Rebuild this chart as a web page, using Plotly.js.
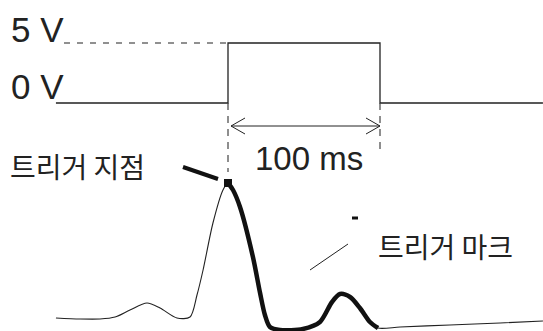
<!DOCTYPE html>
<html>
<head>
<meta charset="utf-8">
<script src="https://cdn.plot.ly/plotly-3.0.1.min.js"></script>
<style>html,body{margin:0;padding:0;background:#fff;}#chart{width:543px;height:331px;}</style>
</head>
<body>
<div id="chart"></div>
<script>
// Trigger pulse (time in ms, level in V)
const pulseTime  = [-113.2, 0, 0, 100, 100, 207.2];
const pulseLevel = [0, 0, 5, 5, 0, 0];

// ECG waveform (time in ms, amplitude in mV)
const ecgTime  = [-113.2, -97.4, -84.2, -74.3, -64.5, -53.3, -44.7, -33.6, -25.0, -20.4, -16.4, -9.9, -3.3, 0,
                  3.3, 7.9, 16.4, 21.1, 24.3, 27.6, 34.2, 49.3, 60.5, 68.4, 73.7, 80.3, 86.8, 93.4, 98.7,
                  113.2, 146.0, 179.0, 207.2];
const ecgValue = [0.01, 0.00, 0.00, 0.02, 0.09, 0.16, 0.11, 0.01, 0.02, 0.24, 0.49, 0.96, 1.29, 1.36,
                  1.29, 1.12, 0.62, 0.26, 0.04, -0.08, -0.11, -0.10, -0.03, 0.17, 0.25, 0.22, 0.11, -0.03, -0.09,
                  -0.08, -0.06, -0.04, -0.02];

// Marked (thick) segment after the trigger point
const markStart = 0, markEnd = 98.7;
const markTime  = ecgTime.filter(t => t >= markStart && t <= markEnd);
const markValue = ecgValue.filter((v, i) => ecgTime[i] >= markStart && ecgTime[i] <= markEnd);

const pulseLabels = ['5 V', '0 V'];
const widthLabel = '100 ms';
const triggerPointLabel = '트리거 지점';
const triggerMarkLabel = '트리거 마크';

const W = 543, H = 331;
const px = x => x / W;
const py = y => 1 - y / H;
const ink = '#222222';

const traces = [
  {x: pulseTime, y: pulseLevel, yaxis: 'y', mode: 'lines', line: {color: ink, width: 1.3}, hoverinfo: 'skip'},
  {x: ecgTime, y: ecgValue, yaxis: 'y2', mode: 'lines', line: {color: ink, width: 1.1, shape: 'spline', smoothing: 0.8}, hoverinfo: 'skip'},
  {x: markTime, y: markValue, yaxis: 'y2', mode: 'lines', line: {color: '#111', width: 4.5, shape: 'spline', smoothing: 0.8}, hoverinfo: 'skip'},
  {x: [markTime[0]], y: [markValue[0]], yaxis: 'y2', mode: 'markers', marker: {color: '#111', size: 8, symbol: 'square'}, hoverinfo: 'skip'}
];

const shapes = [
  // 5 V reference dashed line
  {type: 'line', xref: 'paper', yref: 'y', x0: px(64), x1: px(228), y0: 5, y1: 5, line: {color: ink, width: 1.2, dash: '6px,7px'}},
  // vertical dashed markers
  {type: 'line', xref: 'x', yref: 'paper', x0: 0, x1: 0, y0: py(103), y1: py(172), line: {color: '#444', width: 1.2, dash: '7px,6px'}},
  {type: 'line', xref: 'x', yref: 'paper', x0: 100, x1: 100, y0: py(103), y1: py(155), line: {color: '#444', width: 1.2, dash: '7px,6px'}},
  // 100 ms double arrow
  {type: 'line', xref: 'paper', yref: 'paper', x0: px(231), x1: px(380), y0: py(126), y1: py(126), line: {color: ink, width: 1}},
  {type: 'path', xref: 'paper', yref: 'paper', path: `M ${px(245)} ${py(118)} L ${px(231)} ${py(126)} L ${px(245)} ${py(134)}`, line: {color: ink, width: 1}},
  {type: 'path', xref: 'paper', yref: 'paper', path: `M ${px(366)} ${py(118)} L ${px(380)} ${py(126)} L ${px(366)} ${py(134)}`, line: {color: ink, width: 1}},
  // trigger point pointer
  {type: 'line', xref: 'paper', yref: 'paper', x0: px(183), x1: px(218), y0: py(167), y1: py(179), line: {color: '#111', width: 4}},
  // trigger mark
  {type: 'line', xref: 'paper', yref: 'paper', x0: px(352), x1: px(358), y0: py(218), y1: py(218), line: {color: '#111', width: 3}},
  {type: 'line', xref: 'paper', yref: 'paper', x0: px(348), x1: px(310), y0: py(244), y1: py(270), line: {color: ink, width: 1}}
];

const latin = 'Liberation Sans, Arial, sans-serif';
const korean = 'Noto Sans CJK KR, sans-serif';
const annotations = [
  {text: pulseLabels[0], xref: 'paper', yref: 'paper', x: px(9), y: py(29), xanchor: 'left', yanchor: 'middle', showarrow: false, font: {family: latin, size: 35, color: ink}},
  {text: pulseLabels[1], xref: 'paper', yref: 'paper', x: px(9), y: py(87), xanchor: 'left', yanchor: 'middle', showarrow: false, font: {family: latin, size: 35, color: ink}},
  {text: widthLabel, xref: 'paper', yref: 'paper', x: px(309), y: py(158), xanchor: 'center', yanchor: 'middle', showarrow: false, font: {family: latin, size: 33, color: ink}},
  {text: triggerPointLabel, xref: 'paper', yref: 'paper', x: px(8), y: py(166), xanchor: 'left', yanchor: 'middle', showarrow: false, font: {family: korean, size: 28, color: ink}},
  {text: triggerMarkLabel, xref: 'paper', yref: 'paper', x: px(376), y: py(246), xanchor: 'left', yanchor: 'middle', showarrow: false, font: {family: korean, size: 28, color: ink}}
];

const layout = {
  width: W, height: H,
  margin: {l: 0, r: 0, t: 0, b: 0},
  paper_bgcolor: '#fff', plot_bgcolor: '#fff',
  showlegend: false,
  xaxis: {range: [-150, 207.24], visible: false, fixedrange: true},
  yaxis: {range: [-19, 8.583], visible: false, fixedrange: true},
  yaxis2: {range: [-0.12, 3.19], visible: false, overlaying: 'y', fixedrange: true},
  shapes: shapes,
  annotations: annotations
};

Plotly.newPlot('chart', traces, layout, {staticPlot: true, displayModeBar: false});
</script>
</body>
</html>
